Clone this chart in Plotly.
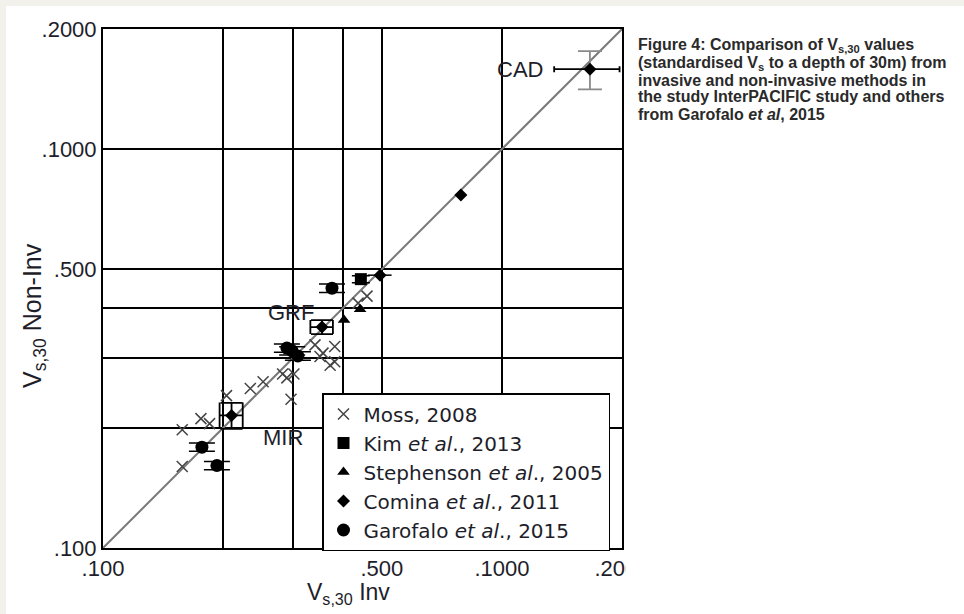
import math
import plotly.graph_objects as go

# ---------------- data ----------------
tick_vals = [100, 200, 300, 400, 500, 1000, 2000]
tick_text = [".100", "", "", "", ".500", ".1000", ".2000"]

moss_x = [158, 176, 185, 158, 204, 234, 252, 282, 289, 301, 296, 340, 356, 381, 371, 350, 381, 459, 436]
moss_y = [198, 211, 205, 160, 241, 251, 261, 273, 267, 273, 236, 323, 308, 320, 287, 302, 293, 428, 411]

kim_x = [443]
kim_y = [472]

steph_x = [441, 402]
steph_y = [397, 373]

comina_x = [495, 789]
comina_y = [483, 767]
comina_xerr = [34, 0]

garofalo_x = [177, 193, 289, 298, 308, 375]
garofalo_y = [179, 161, 317, 312, 303, 448]

site_names = ["CAD", "GRF", "MIR"]
site_x = [1662, 354, 210]
site_y = [1586, 358, 215]
site_xerr = [310, 23, 14]
site_yerr = [175, 14.5, 16]

one_to_one = [100, 2000]

caption_lines = [
    "Figure 4: Comparison of V<sub>s,30</sub> values",
    "(standardised V<sub>s</sub> to a depth of 30m) from",
    "invasive and non-invasive methods in",
    "the study InterPACIFIC study and others",
    "from Garofalo <i>et al</i>, 2015",
]

# ---------------- styles ----------------
FONT = "Liberation Sans, Arial, sans-serif"
LEGFONT = "DejaVu Sans, Liberation Sans, Arial, sans-serif"
TXT = "#1e1e2a"
site_style = {
    "CAD": dict(xw=3, yw=12, ycol="#8a8a8a", xanchor="right", xshift=-45, yshift=0),
    "GRF": dict(xw=7, yw=11, ycol="black", xanchor="right", xshift=-6, yshift=15),
    "MIR": dict(xw=13, yw=11, ycol="black", xanchor="left", xshift=29, yshift=-22),
}

L, R, T, B = 103, 622, 29, 548
W, H = 964, 614


def px_x(p):
    return (p - L) / (R - L)


def px_y(p):
    return (B - p) / (B - T)


fig = go.Figure()

fig.add_trace(go.Scatter(x=one_to_one, y=one_to_one, mode="lines",
                         line=dict(color="#7a7a7a", width=2), showlegend=False,
                         hoverinfo="skip"))

fig.add_trace(go.Scatter(x=moss_x, y=moss_y, mode="markers", name="Moss, 2008",
                         marker=dict(symbol="x-thin", size=11, color="#444",
                                     line=dict(color="#444", width=1.5))))

fig.add_trace(go.Scatter(x=kim_x, y=kim_y, mode="markers", name="Kim <i>et al</i>., 2013",
                         marker=dict(symbol="square", size=12, color="black", line=dict(width=0)),
                         error_y=dict(type="percent", value=2, width=9, thickness=1.5, color="black")))

fig.add_trace(go.Scatter(x=steph_x, y=steph_y, mode="markers", name="Stephenson <i>et al</i>., 2005",
                         marker=dict(symbol="triangle-up", size=11, color="black", line=dict(width=0))))

fig.add_trace(go.Scatter(x=comina_x, y=comina_y, mode="markers", name="Comina <i>et al</i>., 2011",
                         marker=dict(symbol="diamond", size=10, color="black", line=dict(width=0)),
                         error_x=dict(type="data", array=comina_xerr, width=0, thickness=1.5, color="black")))

fig.add_trace(go.Scatter(x=garofalo_x, y=garofalo_y, mode="markers", name="Garofalo <i>et al</i>., 2015",
                         marker=dict(symbol="circle", size=13, color="black", line=dict(width=0)),
                         error_y=dict(type="percent", value=2.4, width=13, thickness=1.5, color="black")))

for name, sx, sy, ex, ey in zip(site_names, site_x, site_y, site_xerr, site_yerr):
    st = site_style[name]
    fig.add_trace(go.Scatter(x=[sx], y=[sy], mode="markers", showlegend=False,
                             marker=dict(symbol="diamond", size=10, color="black", line=dict(width=0)),
                             error_x=dict(type="data", array=[ex], width=st["xw"], thickness=1.8, color="black"),
                             error_y=dict(type="data", array=[ey], width=st["yw"], thickness=1.8, color=st["ycol"])))
    fig.add_annotation(x=math.log10(sx), y=math.log10(sy), xref="x", yref="y", text=name,
                       showarrow=False, xanchor=st["xanchor"], yanchor="middle",
                       xshift=st["xshift"], yshift=st["yshift"],
                       font=dict(family=FONT, size=22, color=TXT))

axis_common = dict(type="log", range=[2, math.log10(2000)], tickmode="array",
                   tickvals=tick_vals, ticktext=tick_text, showgrid=True,
                   gridcolor="black", gridwidth=1.5, showline=True, linecolor="black",
                   linewidth=2, mirror=True, ticks="", zeroline=False,
                   tickfont=dict(family=FONT, size=22, color=TXT))

fig.update_xaxes(**axis_common)
fig.update_yaxes(**axis_common)

# axis titles
fig.add_annotation(x=px_x(348), y=px_y(593), xref="paper", yref="paper", text="V<sub>s,30</sub> Inv",
                   showarrow=False, xanchor="center", yanchor="middle",
                   font=dict(family=FONT, size=23, color=TXT))
fig.add_annotation(x=px_x(34), y=px_y(316), xref="paper", yref="paper", text="V<sub>s,30</sub> Non-Inv",
                   showarrow=False, textangle=-90, xanchor="center", yanchor="middle",
                   font=dict(family=FONT, size=25, color=TXT))

# caption, one annotation per line
for i, line in enumerate(caption_lines):
    fig.add_annotation(x=px_x(636), y=px_y(46 + 17 * i), xref="paper", yref="paper",
                       text="<b>" + line + "</b>", showarrow=False,
                       xanchor="left", yanchor="middle", align="left",
                       font=dict(family=FONT, size=16, color="#2a2a2a"))

fig.update_layout(
    width=W, height=H,
    margin=dict(l=L, r=W - R, t=T, b=H - B, pad=0),
    paper_bgcolor="#f2f1ec", plot_bgcolor="white",
    font=dict(family=FONT, size=22, color=TXT),
    legend=dict(x=px_x(322), y=px_y(393), xanchor="left", yanchor="top",
                bgcolor="white", bordercolor="black", borderwidth=1.5,
                font=dict(family=LEGFONT, size=20, color=TXT), itemsizing="trace",
                tracegroupgap=0),
    shapes=[
        dict(type="rect", xref="paper", yref="paper", layer="below",
             x0=px_x(6), x1=px_x(W + 20), y0=px_y(H + 20), y1=px_y(6),
             fillcolor="white", line=dict(width=0)),
        dict(type="rect", xref="paper", yref="paper", layer="above",
             x0=px_x(626), x1=px_x(W + 20), y0=px_y(H + 20), y1=px_y(551),
             fillcolor="white", line=dict(width=0)),
    ],
    showlegend=True,
)

fig.write_html("out.html", config={"displayModeBar": False},
               post_script="document.body.style.margin='0px';")
